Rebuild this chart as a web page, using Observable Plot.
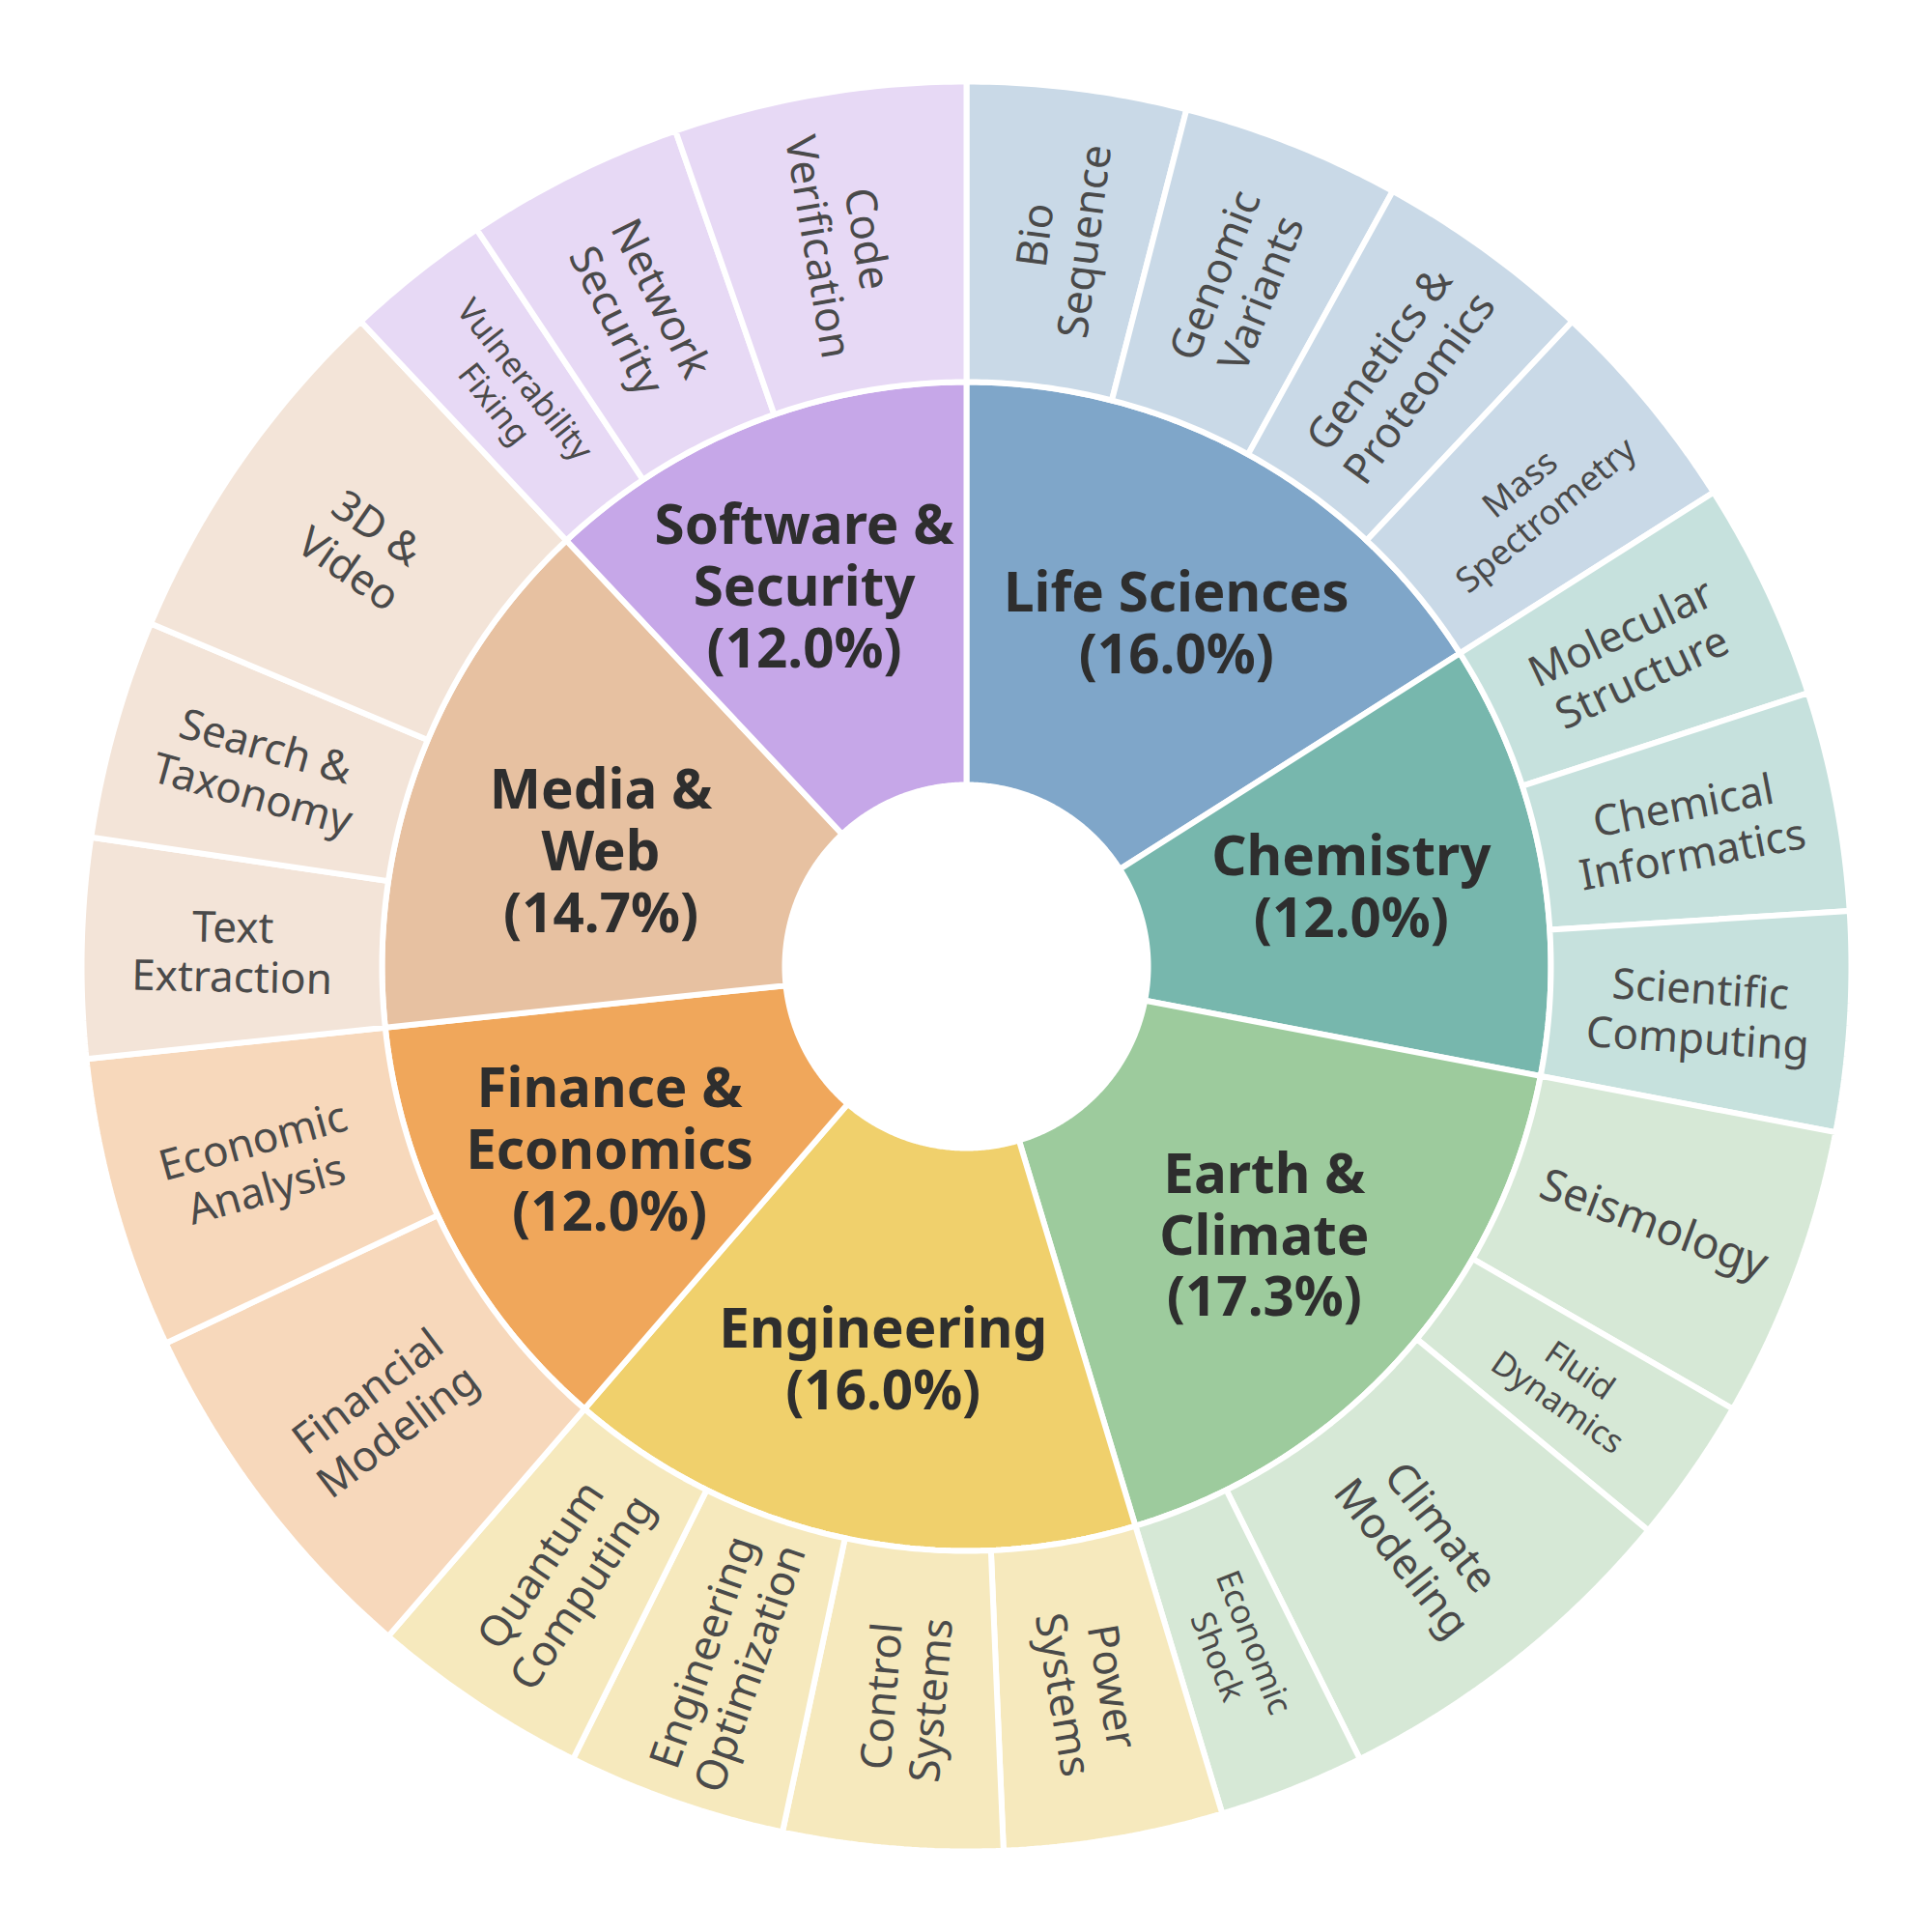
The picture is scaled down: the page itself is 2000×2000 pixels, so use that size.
<!DOCTYPE html>
<html>
<head>
<meta charset="utf-8">
<script src="https://cdn.jsdelivr.net/npm/d3@7"></script>
<script src="https://cdn.jsdelivr.net/npm/@observablehq/plot@0.6"></script>
<style>
html, body { margin: 0; padding: 0; background: #ffffff; }
#chart { width: 2000px; height: 2000px; }
</style>
</head>
<body>
<div id="chart"></div>
<script>
// ---------------- data ----------------
const categories = ["Life Sciences", "Chemistry", "Earth & Climate", "Engineering",
  "Finance & Economics", "Media & Web", "Software & Security"];
const categoryLabels = ["Life Sciences", "Chemistry", "Earth &\nClimate", "Engineering",
  "Finance &\nEconomics", "Media &\nWeb", "Software &\nSecurity"];

const subParents = [
  "Life Sciences", "Life Sciences", "Life Sciences", "Life Sciences",
  "Chemistry", "Chemistry", "Chemistry",
  "Earth & Climate", "Earth & Climate", "Earth & Climate", "Earth & Climate",
  "Engineering", "Engineering", "Engineering", "Engineering",
  "Finance & Economics", "Finance & Economics",
  "Media & Web", "Media & Web", "Media & Web",
  "Software & Security", "Software & Security", "Software & Security"
];
const subLabels = [
  "Bio\nSequence", "Genomic\nVariants", "Genetics &\nProteomics", "Mass\nSpectrometry",
  "Molecular\nStructure", "Chemical\nInformatics", "Scientific\nComputing",
  "Seismology", "Fluid\nDynamics", "Climate\nModeling", "Economic\nShock",
  "Power\nSystems", "Control\nSystems", "Engineering\nOptimization", "Quantum\nComputing",
  "Financial\nModeling", "Economic\nAnalysis",
  "Text\nExtraction", "Search &\nTaxonomy", "3D &\nVideo",
  "Vulnerability\nFixing", "Network\nSecurity", "Code\nVerification"
];
const subValues = [
  3, 3, 3, 3,
  3, 3, 3,
  4, 2, 5, 2,
  3, 3, 3, 3,
  5, 4,
  3, 3, 5,
  2, 3, 4
];

// ---------------- styles ----------------
const innerColors = ["#7fa6c9", "#77b7ad", "#9dcb9d", "#f0d06c", "#f0a75b", "#e7c1a1", "#c6a7e8"];
const outerColors = ["#c9d9e7", "#c6e1dd", "#d6e8d6", "#f6e9bd", "#f7d8bb", "#f3e4d8", "#e7d9f5"];
const smallLabels = new Set(["Mass\nSpectrometry", "Fluid\nDynamics", "Economic\nShock", "Vulnerability\nFixing"]);
const largeLabels = new Set(["Seismology"]);
// label placement tweaks for the inner ring: [angle shift in degrees, radius shift in px]
const innerLabelNudge = [[2.6, 2], [-1, -8], [0, 0], [0, 0], [0.5, 0], [-2.8, -18], [-1.5, 13]];

const R0 = 188, R1 = 605, R2 = 916;
const rInnerLabel = 415, rOuterLabel = 760;

// ---------------- geometry from data ----------------
const total = d3.sum(subValues);
const angle = d3.scaleLinear().domain([0, total]).range([0, 2 * Math.PI]);
const pt = (a, r) => [r * Math.sin(a), -r * Math.cos(a)];

function arcRing(a0, a1, r0, r1) {
  const n = Math.max(4, Math.ceil((a1 - a0) / (Math.PI / 360)));
  const ring = [];
  for (let i = 0; i <= n; i++) ring.push(pt(a0 + (a1 - a0) * i / n, r1));
  for (let i = n; i >= 0; i--) ring.push(pt(a0 + (a1 - a0) * i / n, r0));
  ring.push(ring[0]);
  return ring;
}

const starts = d3.cumsum([0, ...subValues]);
const subs = subLabels.map((label, i) => ({
  label, parent: subParents[i], value: subValues[i],
  a0: angle(starts[i]), a1: angle(starts[i + 1])
}));

const cats = categories.map((c, k) => {
  const kids = subs.filter(s => s.parent === c);
  return {
    name: c, label: categoryLabels[k], k,
    value: d3.sum(kids, s => s.value),
    a0: d3.min(kids, s => s.a0), a1: d3.max(kids, s => s.a1)
  };
});

const features = [];
cats.forEach(c => features.push({
  type: "Feature",
  properties: {color: innerColors[c.k]},
  geometry: {type: "Polygon", coordinates: [arcRing(c.a0, c.a1, R0, R1)]}
}));
subs.forEach(s => {
  const k = categories.indexOf(s.parent);
  features.push({
    type: "Feature",
    properties: {color: outerColors[k]},
    geometry: {type: "Polygon", coordinates: [arcRing(s.a0, s.a1, R1, R2)]}
  });
});

const innerText = cats.map(c => {
  const [da, dr] = innerLabelNudge[c.k];
  const m = (c.a0 + c.a1) / 2 + da * Math.PI / 180;
  const [x, y] = pt(m, rInnerLabel + dr);
  return {x, y, text: `${c.label}\n(${(c.value / total * 100).toFixed(1)}%)`};
});

const outerText = subs.map(s => {
  const m = (s.a0 + s.a1) / 2;
  const [x, y] = pt(m, rOuterLabel);
  const deg = m * 180 / Math.PI;
  const rotate = deg > 180 ? deg - 270 : deg - 90;
  const size = smallLabels.has(s.label) ? (s.value > 2 ? 36 : 34.5) : largeLabels.has(s.label) ? 46 : 44;
  return {x, y, text: s.label, rotate, size};
});

// ---------------- plot ----------------
const chart = Plot.plot({
  width: 2000,
  height: 2000,
  margin: 0,
  projection: {
    type: "identity",
    domain: {type: "MultiPoint", coordinates: [[-1000, -1000], [1000, 1000]]}
  },
  color: {type: "identity"},
  style: {fontFamily: "'Noto Sans', sans-serif", background: "#ffffff"},
  marks: [
    Plot.geo(features, {fill: d => d.properties.color, stroke: "#ffffff", strokeWidth: 6, strokeLinejoin: "miter"}),
    Plot.text(innerText, {x: "x", y: "y", text: "text", fontSize: 56.5, fontWeight: "bold",
      fill: "#2e2e2e", lineHeight: 1.13}),
    Plot.text(outerText, {x: "x", y: "y", text: "text", rotate: "rotate",
      fontSize: "size", fill: "#4a4a4a", lineHeight: 1.17})
  ]
});
document.getElementById("chart").appendChild(chart);
</script>
</body>
</html>
